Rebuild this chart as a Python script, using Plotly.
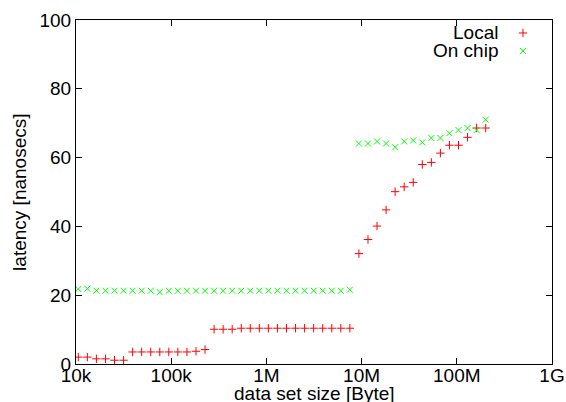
import plotly.graph_objects as go

# data set sizes in bytes
sizes = [10570, 13160, 16380, 20390, 25380, 31590, 39330, 48960, 60940, 75860,
         94400, 117500, 146300, 182100, 226700, 282200, 351300, 437200, 544300, 677200,
         843000, 1049000, 1306000, 1626000, 2024000, 2520000, 3136000, 3904000, 4860000, 6050000,
         7530000, 9371000, 11670000, 14520000, 18080000, 22500000, 28010000, 34860000, 43400000, 54020000,
         67250000, 83700000, 104200000, 129700000, 161500000, 201000000]

local_ns = [2.0, 2.0, 1.5, 1.5, 1.1, 1.1, 3.5, 3.5, 3.5, 3.5,
            3.5, 3.5, 3.5, 3.7, 4.2, 10.1, 10.1, 10.1, 10.4, 10.4,
            10.4, 10.4, 10.4, 10.4, 10.4, 10.4, 10.4, 10.4, 10.4, 10.4,
            10.4, 32.1, 36.2, 40.1, 44.8, 50.1, 51.5, 52.8, 58.0, 58.6,
            61.3, 63.6, 63.6, 65.9, 68.6, 68.6]

onchip_ns = [21.8, 21.9, 21.3, 21.3, 21.3, 21.3, 21.3, 21.3, 21.3, 20.9,
             21.3, 21.3, 21.3, 21.3, 21.3, 21.3, 21.3, 21.3, 21.3, 21.3,
             21.3, 21.3, 21.3, 21.3, 21.3, 21.3, 21.3, 21.3, 21.3, 21.3,
             21.6, 64.1, 64.1, 64.7, 64.1, 63.0, 64.7, 65.0, 64.4, 65.7,
             65.7, 67.1, 68.0, 68.6, 68.0, 71.0]

x_tickvals = [1e4, 1e5, 1e6, 1e7, 1e8, 1e9]
x_ticktext = ["10k", "100k", "1M", "10M", "100M", "1G"]
y_tickvals = [0, 20, 40, 60, 80, 100]

series_names = ["Local", "On chip"]
RED = "#ff0000"
GREEN = "#00ff00"
FONT = "Liberation Sans, Arial, sans-serif"
FS = 19

fig = go.Figure()
fig.add_trace(go.Scatter(x=sizes, y=local_ns, mode="markers", name=series_names[0],
                         marker=dict(symbol="cross-thin", size=6, line=dict(color=RED, width=1), color=RED)))
fig.add_trace(go.Scatter(x=sizes, y=onchip_ns, mode="markers", name=series_names[1],
                         marker=dict(symbol="x-thin", size=6, line=dict(color=GREEN, width=1), color=GREEN)))

# legend keys (gnuplot style: text right-aligned, symbol on the right)
key_x = [0.939, 0.939]
key_y = [0.9623, 0.910]
fig.add_trace(go.Scatter(x=[key_x[0]], y=[key_y[0]], xaxis="x2", yaxis="y2", mode="markers",
                         marker=dict(symbol="cross-thin", size=6, line=dict(color=RED, width=1)),
                         showlegend=False, hoverinfo="skip"))
fig.add_trace(go.Scatter(x=[key_x[1]], y=[key_y[1]], xaxis="x2", yaxis="y2", mode="markers",
                         marker=dict(symbol="x-thin", size=6, line=dict(color=GREEN, width=1)),
                         showlegend=False, hoverinfo="skip"))

axis_common = dict(showline=True, linecolor="black", linewidth=1, mirror="ticks",
                   ticks="inside", ticklen=6, tickcolor="black", tickwidth=1,
                   showgrid=False, zeroline=False, automargin=False,
                   tickfont=dict(family=FONT, size=FS, color="black"))

fig.update_layout(
    width=566, height=402,
    margin=dict(l=76, r=14, t=20, b=37.5, autoexpand=False),
    paper_bgcolor="white", plot_bgcolor="white",
    showlegend=False,
    font=dict(family=FONT, size=FS, color="black"),
    xaxis=dict(type="log", range=[4, 9], tickvals=x_tickvals, ticktext=x_ticktext,
               ticklabelstandoff=-6, **axis_common),
    yaxis=dict(range=[0, 100], tickvals=y_tickvals, **axis_common),
    xaxis2=dict(overlaying="x", range=[0, 1], visible=False, fixedrange=True),
    yaxis2=dict(overlaying="y", range=[0, 1], visible=False, fixedrange=True),
    annotations=[
        dict(text="data set size [Byte]", x=0.5, y=-0.050, xref="paper", yref="paper",
             xanchor="center", yanchor="top", showarrow=False, font=dict(family=FONT, size=FS)),
        dict(text="latency [nanosecs]", x=-0.12, y=0.5, xref="paper", yref="paper",
             xanchor="center", yanchor="middle", textangle=-90, showarrow=False,
             font=dict(family=FONT, size=FS)),
        dict(text=series_names[0], x=0.891, y=key_y[0], xref="paper", yref="paper",
             xanchor="right", yanchor="middle", showarrow=False, font=dict(family=FONT, size=FS)),
        dict(text=series_names[1], x=0.891, y=key_y[1], xref="paper", yref="paper",
             xanchor="right", yanchor="middle", showarrow=False, font=dict(family=FONT, size=FS)),
    ],
)

fig.write_html("out.html", config={"displayModeBar": False},
               post_script="document.body.style.margin='0';document.body.style.overflow='hidden';")
